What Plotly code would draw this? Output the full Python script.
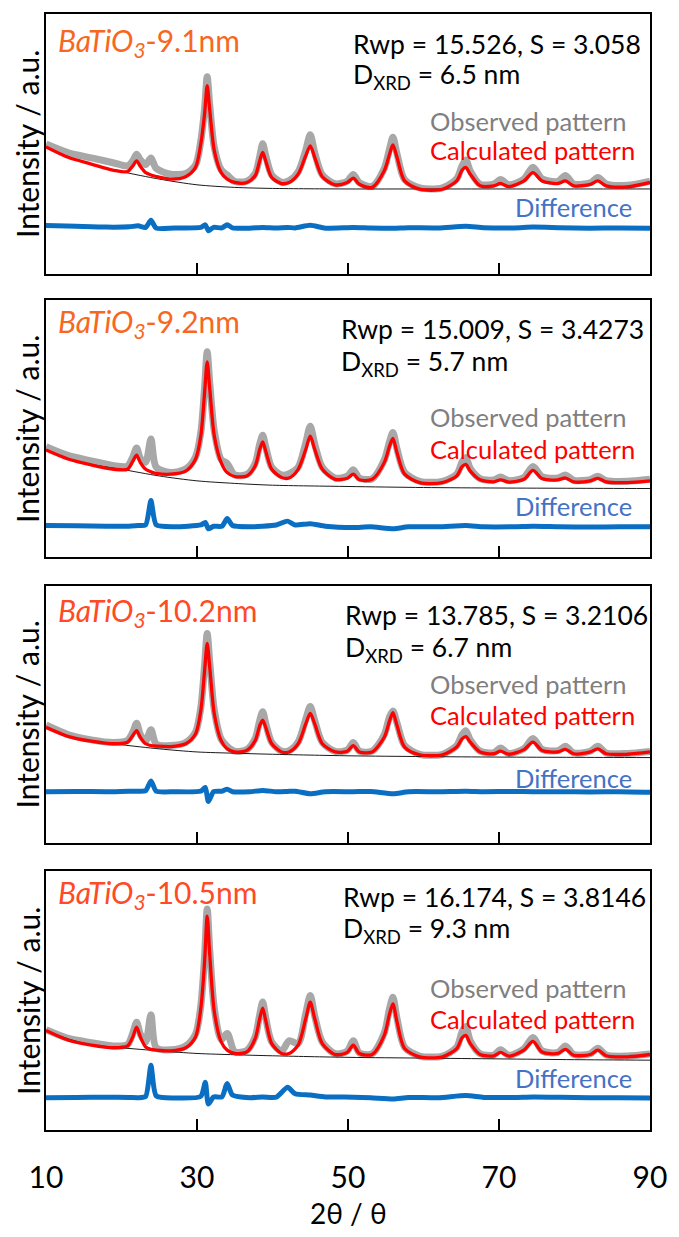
import plotly.graph_objects as go

# ---------------- data ----------------
two_theta = [10, 13, 16, 19, 20.8, 21.5, 22.0, 22.5, 23.2, 23.9, 24.6, 26.5, 28.5, 29.8, 30.5, 31.0,
             31.35, 31.7, 32.3, 33.2, 34.0, 35.0, 36.6, 37.7, 38.3, 38.7, 39.1, 39.9, 41.2, 42.2, 43.4,
             44.4, 45.0, 45.6, 46.6, 48.3, 49.9, 50.7, 51.5, 53.2, 54.8, 55.5, 55.95, 56.5, 57.5, 59.5,
             62.5, 64.4, 65.1, 65.6, 66.2, 67.5, 69.3, 70.2, 71.3, 73.3, 74.5, 75.7, 77.8, 78.8, 79.9,
             82.1, 83.1, 84.2, 87.0, 90.0]

calc_1 = [48.8, 44.7, 42.2, 39.8, 39.3, 41.5, 43.4, 41.3, 38.9, 38.0, 37.4, 36.4, 37.3, 40.9, 49.9, 61.4,
          72.4, 62.7, 47.3, 38.9, 36.4, 35.1, 35.1, 37.7, 43.4, 46.7, 43.4, 37.0, 34.7, 35.1, 38.3,
          45.4, 49.2, 44.7, 37.3, 34.2, 35.1, 36.8, 34.4, 33.2, 39.6, 46.0, 49.6, 44.7, 35.7, 32.5,
          32.5, 35.7, 39.8, 40.9, 38.3, 33.8, 33.8, 34.7, 33.5, 35.7, 38.9, 35.7, 34.7, 35.7, 33.8,
          34.4, 35.7, 33.8, 33.4, 35.1]
obs_1 = [49.9, 46.5, 44.6, 42.6, 41.5, 43.5, 46.0, 43.8, 42.0, 44.5, 40.5, 38.3, 38.6, 41.8, 51.0, 63.5,
         75.8, 64.5, 48.5, 40.0, 38.0, 35.5, 35.6, 38.5, 45.0, 50.0, 45.5, 38.0, 35.2, 35.8, 39.2,
         47.5, 53.5, 46.5, 38.0, 34.6, 35.6, 38.2, 35.0, 33.6, 40.5, 48.0, 52.5, 46.0, 36.2, 33.0,
         33.0, 36.5, 41.5, 43.8, 39.5, 34.4, 34.5, 36.2, 34.2, 36.4, 41.0, 36.5, 35.5, 37.8, 34.5,
         35.0, 37.0, 34.5, 34.0, 35.6]

calc_2 = [41.7, 38.1, 35.9, 34.2, 34.2, 37.4, 39.7, 36.8, 34.2, 33.2, 32.6, 32.3, 33.5, 38.1, 47.1, 63.9,
          76.1, 65.2, 47.1, 36.8, 32.9, 31.4, 31.6, 35.5, 41.9, 44.9, 41.3, 34.2, 31.0, 30.8, 34.2,
          41.9, 47.1, 41.9, 34.2, 30.3, 30.7, 32.3, 30.1, 30.3, 36.8, 43.2, 46.2, 40.6, 32.3, 29.0,
          29.0, 31.6, 35.2, 36.1, 33.5, 30.1, 29.3, 30.1, 29.2, 30.3, 33.8, 30.6, 30.1, 30.8, 29.3,
          29.7, 30.7, 29.3, 29.0, 29.7]
obs_2 = [43.0, 39.5, 37.5, 35.6, 35.5, 39.0, 42.5, 38.5, 37.0, 46.0, 35.0, 33.0, 34.3, 39.0, 48.5, 66.0,
         80.0, 67.5, 49.0, 38.0, 36.5, 32.0, 32.2, 36.5, 44.0, 47.5, 43.0, 35.0, 32.0, 32.5, 35.0,
         44.5, 51.0, 44.0, 35.0, 30.8, 31.5, 34.0, 30.8, 30.5, 37.8, 45.0, 48.5, 42.0, 33.0, 29.5,
         29.5, 32.3, 37.0, 38.8, 34.5, 30.6, 30.0, 31.2, 29.8, 31.0, 35.3, 31.3, 30.8, 32.0, 29.9,
         30.2, 31.5, 29.8, 29.5, 30.3]

calc_3 = [44.9, 41.3, 39.5, 38.5, 39.1, 41.7, 43.6, 41.0, 38.5, 37.8, 37.6, 37.4, 38.5, 42.3, 51.3, 66.7,
          77.6, 67.9, 50.0, 39.7, 36.5, 35.3, 35.9, 39.7, 45.5, 47.7, 44.9, 38.5, 35.3, 35.3, 38.5,
          46.2, 50.3, 46.2, 38.5, 35.3, 35.6, 37.8, 35.3, 35.3, 41.0, 47.4, 50.6, 45.5, 37.2, 34.2,
          34.2, 37.2, 40.4, 41.3, 39.1, 35.3, 34.6, 35.6, 34.4, 36.2, 39.1, 35.9, 35.3, 36.3, 34.6,
          35.3, 36.5, 34.6, 34.4, 35.3]
obs_3 = [45.8, 42.0, 40.0, 39.0, 39.8, 43.0, 46.5, 42.0, 39.5, 44.0, 38.3, 37.8, 39.0, 43.0, 52.5, 69.0,
         81.5, 70.0, 51.5, 40.3, 37.5, 35.6, 36.2, 40.5, 47.5, 51.0, 46.5, 39.0, 35.6, 35.8, 39.2,
         48.0, 53.0, 47.5, 39.0, 35.5, 36.0, 39.0, 35.6, 35.6, 42.0, 49.0, 51.3, 46.5, 37.8, 34.4,
         34.4, 37.8, 42.0, 43.6, 40.0, 35.6, 35.0, 36.8, 34.7, 36.6, 40.5, 36.3, 35.8, 37.5, 34.9,
         35.6, 37.5, 34.9, 34.7, 35.5]

calc_4 = [38.5, 34.7, 32.8, 31.8, 32.5, 36.0, 39.8, 36.0, 32.1, 31.2, 30.9, 30.6, 31.8, 36.0, 46.9, 64.8,
          82.7, 67.3, 45.6, 34.1, 30.9, 29.6, 30.2, 35.3, 43.0, 47.1, 42.4, 33.4, 29.6, 29.6, 32.8,
          43.0, 49.4, 43.0, 33.4, 29.2, 30.0, 32.8, 29.6, 29.2, 36.6, 44.9, 48.8, 41.7, 31.5, 28.3,
          28.3, 31.5, 35.6, 36.6, 33.4, 29.2, 28.7, 30.0, 28.6, 30.9, 34.3, 30.2, 29.6, 31.2, 28.9,
          29.2, 30.9, 28.7, 28.3, 29.2]
obs_4 = [38.8, 35.4, 33.8, 32.5, 33.0, 37.5, 41.7, 37.0, 34.0, 44.6, 31.8, 31.0, 32.5, 37.0, 48.0, 67.0,
         85.5, 69.0, 47.0, 35.0, 37.3, 30.3, 30.8, 36.0, 44.5, 49.5, 43.5, 34.0, 30.5, 34.5, 33.5,
         45.0, 52.0, 44.0, 34.0, 29.5, 30.5, 34.5, 29.8, 29.5, 37.5, 47.0, 51.3, 43.0, 32.0, 28.6,
         28.6, 32.0, 38.0, 40.0, 34.5, 29.5, 29.0, 31.0, 28.9, 31.4, 35.8, 30.6, 30.0, 32.5, 29.2,
         29.5, 31.6, 29.0, 28.6, 29.4]

bg_theta = [10, 13, 16, 20, 25, 30, 35, 40, 50, 60, 70, 80, 90]
bg_1 = [48.8, 45.0, 42.2, 39.3, 36.4, 34.2, 33.2, 32.8, 32.6, 32.6, 32.6, 32.6, 32.6]
bg_2 = [41.7, 38.3, 36.1, 34.2, 31.6, 29.7, 28.7, 28.0, 27.5, 27.1, 26.9, 26.8, 26.7]
bg_3 = [44.9, 41.5, 39.5, 38.1, 36.5, 35.3, 34.8, 34.4, 33.8, 33.5, 33.3, 33.2, 33.1]
bg_4 = [38.5, 35.2, 33.0, 31.8, 30.6, 29.6, 29.1, 28.7, 28.1, 27.8, 27.5, 27.2, 27.0]

diff_theta = [10, 14, 18, 21, 22.2, 23.2, 23.9, 24.6, 27, 30.5, 31.1, 31.5, 32.2, 33.3, 34.0, 34.7,
              37, 38.7, 40.5, 42.0, 43.0, 45.0, 47, 50.7, 53, 56.0, 58, 62, 65.6, 68, 72, 74.5,
              78, 82, 86, 90]
diff_1 = [18.5, 18.2, 17.9, 18.0, 18.4, 17.8, 20.5, 17.5, 17.6, 17.8, 18.8, 16.5, 17.8, 17.6, 18.8, 17.6,
          17.5, 17.8, 17.6, 17.8, 17.6, 18.6, 17.5, 17.8, 17.6, 17.5, 17.7, 17.6, 18.2, 17.7, 17.6, 17.9,
          17.7, 17.5, 17.6, 17.5]
diff_2 = [12.3, 12.2, 12.0, 12.0, 12.3, 12.5, 22.0, 12.5, 11.8, 12.5, 13.5, 11.0, 12.0, 12.0, 15.0, 12.3,
          11.8, 12.0, 12.5, 14.0, 12.5, 13.0, 12.0, 11.5, 11.8, 11.0, 11.8, 11.8, 12.3, 11.8, 11.8, 12.0,
          11.8, 11.7, 11.8, 11.8]
diff_3 = [19.8, 19.9, 19.8, 20.0, 20.0, 20.2, 24.0, 20.0, 19.8, 20.0, 21.5, 16.0, 19.8, 20.0, 20.8, 19.8,
          19.8, 20.3, 19.8, 19.9, 20.0, 19.0, 19.8, 19.8, 19.9, 19.0, 19.8, 19.8, 20.0, 19.8, 19.9, 19.8,
          19.8, 19.7, 19.8, 19.6]
diff_4 = [12.5, 12.6, 12.7, 12.6, 12.5, 13.0, 25.0, 13.2, 12.4, 13.0, 18.5, 10.0, 12.8, 12.8, 18.0, 13.5,
          12.5, 12.8, 12.7, 16.5, 14.0, 13.5, 12.8, 12.7, 12.5, 12.0, 12.6, 12.5, 13.3, 12.6, 12.6, 12.8,
          12.7, 12.5, 12.5, 12.4]

sample_names = ["9.1nm", "9.2nm", "10.2nm", "10.5nm"]
rwp_vals = ["15.526", "15.009", "13.785", "16.174"]
s_vals = ["3.058", "3.4273", "3.2106", "3.8146"]
dxrd_vals = ["6.5", "5.7", "6.7", "9.3"]
x_ticks = [10, 30, 50, 70, 90]

calc_all = [calc_1, calc_2, calc_3, calc_4]
obs_all = [obs_1, obs_2, obs_3, obs_4]
bg_all = [bg_1, bg_2, bg_3, bg_4]
diff_all = [diff_1, diff_2, diff_3, diff_4]

# ---------------- layout ----------------
W, H = 679, 1237
ML, MR, MT, MB = 46, 21, 12, 107
PW = W - ML - MR
domains = [[0.7674, 1.0], [0.5134, 0.7433], [0.2576, 0.4875], [0.0, 0.2317]]
name_colors = ["#F8671E", "#F8671E", "#FF4A26", "#FF4A26"]
# text placement (px) relative to each panel
stat_left = [355, 343, 347, 345]
title_off = [28, 23, 26, 23]
rwp_off = [30, 29, 29, 26]
d_off = [62, 63, 63, 59]
obs_off = [107, 117, 98, 117]
calc_off = [136, 149, 129, 148]
diff_off = [193, 206, 192, 207]

FONT = "Lato"
TXT = 25.5
fig = go.Figure()
annotations = []
for i in range(4):
    xa = "x" if i == 0 else f"x{i+1}"
    ya = "y" if i == 0 else f"y{i+1}"
    fig.add_trace(go.Scatter(x=two_theta, y=obs_all[i], mode="lines", xaxis=xa, yaxis=ya,
                             line=dict(color="#A8A8A8", width=7, shape="spline", smoothing=0.8),
                             showlegend=False, hoverinfo="skip"))
    fig.add_trace(go.Scatter(x=bg_theta, y=bg_all[i], mode="lines", xaxis=xa, yaxis=ya,
                             line=dict(color="#1a1a1a", width=1, shape="spline", smoothing=0.8),
                             showlegend=False, hoverinfo="skip"))
    fig.add_trace(go.Scatter(x=two_theta, y=calc_all[i], mode="lines", xaxis=xa, yaxis=ya,
                             line=dict(color="#FF0000", width=3.3, shape="spline", smoothing=0.8),
                             showlegend=False, hoverinfo="skip"))
    fig.add_trace(go.Scatter(x=diff_theta, y=diff_all[i], mode="lines", xaxis=xa, yaxis=ya,
                             line=dict(color="#0A6FC2", width=5, shape="spline", smoothing=0.6),
                             showlegend=False, hoverinfo="skip"))

    d0, d1 = domains[i]
    axis_common = dict(showline=True, linecolor="black", linewidth=1.5, mirror=True,
                       showgrid=False, zeroline=False)
    fig.layout[("xaxis" if i == 0 else f"xaxis{i+1}")] = dict(
        domain=[0, 1], anchor=ya, range=[10, 90], tickvals=x_ticks,
        ticks="inside", ticklen=11, tickwidth=1.5, tickcolor="black",
        showticklabels=(i == 3), ticklabelstandoff=20,
        tickfont=dict(family=FONT, size=30, color="black"), **axis_common)
    fig.layout[("yaxis" if i == 0 else f"yaxis{i+1}")] = dict(
        domain=[d0, d1], anchor=xa, range=[0, 100], showticklabels=False, ticks="", **axis_common)

    ph = (d1 - d0) * (H - MT - MB)
    def yd(off):
        return 1 - off / ph
    xd = f"{xa} domain"
    ydm = f"{ya} domain"
    sx = (stat_left[i] - ML) / PW
    annotations += [
        dict(text=f"<i>BaTiO<sub>3</sub></i>-{sample_names[i]}", x=10 / PW, y=yd(title_off[i]),
             xref=xd, yref=ydm, xanchor="left", yanchor="middle", showarrow=False,
             font=dict(family=FONT, size=30, color=name_colors[i])),
        dict(text=f"Rwp = {rwp_vals[i]}, S = {s_vals[i]}", x=sx, y=yd(rwp_off[i]),
             xref=xd, yref=ydm, xanchor="left", yanchor="middle", showarrow=False,
             font=dict(family=FONT, size=26.5, color="black")),
        dict(text=f"D<sub>XRD</sub> = {dxrd_vals[i]} nm", x=sx, y=yd(d_off[i]),
             xref=xd, yref=ydm, xanchor="left", yanchor="middle", showarrow=False,
             font=dict(family=FONT, size=26.5, color="black")),
        dict(text="Observed pattern", x=590 / PW, y=yd(obs_off[i]),
             xref=xd, yref=ydm, xanchor="right", yanchor="middle", showarrow=False,
             font=dict(family=FONT, size=TXT, color="#7F7F7F")),
        dict(text="Calculated pattern", x=599 / PW, y=yd(calc_off[i]),
             xref=xd, yref=ydm, xanchor="right", yanchor="middle", showarrow=False,
             font=dict(family=FONT, size=TXT, color="#FF0000")),
        dict(text="Difference", x=596 / PW, y=yd(diff_off[i]),
             xref=xd, yref=ydm, xanchor="right", yanchor="middle", showarrow=False,
             font=dict(family=FONT, size=TXT, color="#4472C4")),
        dict(text="Intensity / a.u.", x=-19 / PW, y=0.5, textangle=-90,
             xref=xd, yref=ydm, xanchor="center", yanchor="middle", showarrow=False,
             font=dict(family=FONT, size=30, color="black")),
    ]

annotations.append(dict(text="2θ / θ", x=0.5, y=-(1213 - 1130) / (H - MT - MB), xref="paper", yref="paper",
                        xanchor="center", yanchor="middle", showarrow=False,
                        font=dict(family=FONT, size=28, color="black")))

fig.update_layout(width=W, height=H, margin=dict(l=ML, r=MR, t=MT, b=MB),
                  plot_bgcolor="white", paper_bgcolor="white", annotations=annotations)

fig.write_html("out.html")
